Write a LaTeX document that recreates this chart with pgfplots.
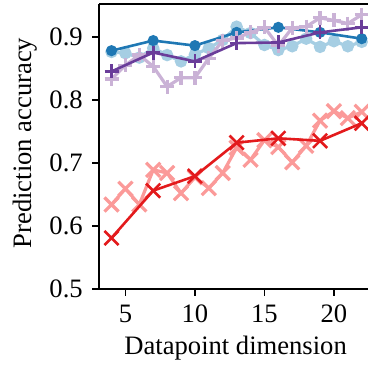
\documentclass[border=0pt]{standalone}
\usepackage{fontspec}
\setmainfont{Liberation Serif}
\usepackage{pgfplots}
\pgfplotsset{compat=1.18}
\definecolor{dblue}{HTML}{1F78B4}
\definecolor{lblue}{HTML}{A6CEE3}
\definecolor{dred}{HTML}{E31A1C}
\definecolor{lred}{HTML}{FB9A99}
\definecolor{dpurp}{HTML}{6A3D9A}
\definecolor{lpurp}{HTML}{CAB2D6}
\begin{document}
\fontsize{13.3}{16}\selectfont
\begin{tikzpicture}
\begin{axis}[
  scale only axis, width=134.5pt, height=142.5pt,
  xmin=3.1, xmax=22.45, ymin=0.5, ymax=0.952,
  axis x line=box, axis y line=left, axis line style={-, line width=0.9pt},
  xtick pos=bottom, ytick pos=left, tick align=outside,
  major tick length=3.5pt, tick style={line width=0.9pt, black},
  xtick={5,10,15,20}, xticklabels={5,10,15,20},
  ytick={0.5,0.6,0.7,0.8,0.9}, yticklabels={0.5,0.6,0.7,0.8,0.9},
  xlabel={Datapoint dimension}, ylabel={Prediction accuracy},
  every axis x label/.style={at={(axis description cs:0.508,0)}, anchor=base, yshift=-32.75pt},
  every axis y label/.style={at={(axis description cs:0,0.512)}, anchor=center, rotate=90, yshift=37pt},
  clip marker paths=true,
]
\addplot[lblue, line width=1.6pt, mark=*, mark size=2.3pt, mark options={solid}] coordinates {
(4,0.876)(5,0.874)(6,0.867)(7,0.882)(8,0.871)(9,0.861)(10,0.872)(11,0.882)(12,0.895)(13,0.916)(14,0.906)(15,0.887)(16,0.879)(17,0.885)(18,0.897)(19,0.884)(20,0.893)(21,0.885)(22,0.892)};
\addplot[dblue, line width=1.3pt, mark=*, mark size=2.1pt] coordinates {
(4,0.878)(7,0.894)(10,0.886)(13,0.907)(16,0.915)(19,0.907)(22,0.897)};
\addplot[lred, line width=1.6pt, mark=x, mark size=5pt] coordinates {
(4,0.634)(5,0.659)(6,0.634)(7,0.689)(8,0.684)(9,0.652)(10,0.677)(11,0.660)(12,0.684)(13,0.724)(14,0.705)(15,0.736)(16,0.725)(17,0.701)(18,0.727)(19,0.767)(20,0.782)(21,0.771)(22,0.781)};
\addplot[dred, line width=1.3pt, mark=x, mark size=5pt] coordinates {
(4,0.581)(7,0.656)(10,0.679)(13,0.732)(16,0.739)(19,0.735)(22,0.763)};
\addplot[lpurp, line width=1.6pt, mark=+, mark size=3.5pt] coordinates {
(4,0.833)(5,0.855)(6,0.871)(7,0.853)(8,0.821)(9,0.835)(10,0.835)(11,0.866)(12,0.894)(13,0.898)(14,0.907)(15,0.915)(16,0.886)(17,0.914)(18,0.916)(19,0.930)(20,0.926)(21,0.921)(22,0.935)};
\addplot[dpurp, line width=1.3pt, mark=+, mark size=3.5pt] coordinates {
(4,0.845)(7,0.875)(10,0.861)(13,0.890)(16,0.891)(19,0.907)(22,0.915)};
\end{axis}
\pgfresetboundingbox
\path ([xshift=-49.5pt,yshift=-42.5pt]current axis.south west) rectangle ([yshift=2pt]current axis.north east);
\end{tikzpicture}
\end{document}
